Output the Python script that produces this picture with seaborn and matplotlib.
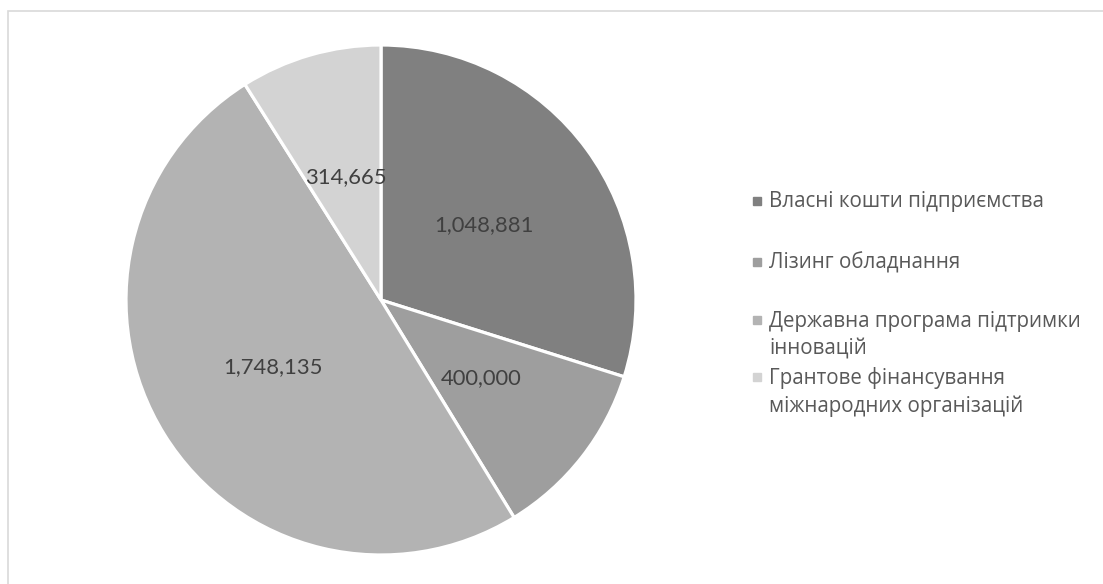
import matplotlib
matplotlib.use("Agg")
import matplotlib.pyplot as plt
import seaborn as sns
import numpy as np
from matplotlib.lines import Line2D
from matplotlib.patches import Rectangle

categories = [
    "Власні кошти підприємства",
    "Лізинг обладнання",
    "Державна програма підтримки\nінновацій",
    "Грантове фінансування\nміжнародних організацій",
]
values = [1048881, 400000, 1748135, 314665]
value_labels = ["1,048,881", "400,000", "1,748,135", "314,665"]
colors = ["#808080", "#9e9e9e", "#b3b3b3", "#d3d3d3"]

sns.set_theme(style="white")
plt.rcParams["font.family"] = ["Lato", "Open Sans", "DejaVu Sans"]

W, H = 1103, 584
fig = plt.figure(figsize=(W / 100, H / 100), dpi=100)
fig.patch.set_facecolor("white")

# chart frame (only top/left edges visible in reference)
fig.patches.append(Rectangle((8 / W, -0.1), 1.2, (H - 11) / H + 0.1,
                             transform=fig.transFigure, fill=False,
                             edgecolor="#d9d9d9", linewidth=1.2, zorder=0))

cx, cy, r = 381, 300, 255
ax = fig.add_axes([(cx - r) / W, (H - cy - r) / H, 2 * r / W, 2 * r / H])
wedges, _ = ax.pie(values, colors=colors, startangle=90, counterclock=False,
                   wedgeprops=dict(edgecolor="white", linewidth=2.3),
                   radius=1.0)
ax.set_xlim(-1, 1)
ax.set_ylim(-1, 1)
ax.set_aspect("equal")
ax.axis("off")

total = sum(values)
cum = 0
for v, lab in zip(values, value_labels):
    mid = (cum + v / 2) / total
    ang = np.deg2rad(90 - 360 * mid)
    d = 0.5
    ax.text(d * np.cos(ang), d * np.sin(ang), lab, ha="center", va="center",
            fontsize=15.8, color="#404040", family=["Lato", "DejaVu Sans"])
    cum += v

# legend (drawn manually to mimic spreadsheet legend spacing)
line_y = [[201], [262], [320, 347], [377, 405]]
for cat, c, ys in zip(categories, colors, line_y):
    lines = cat.split("\n")
    fig.add_artist(Line2D([757 / W], [1 - ys[0] / H], marker="s",
                          markersize=5.2, markerfacecolor=c,
                          markeredgecolor=c, linestyle="none",
                          transform=fig.transFigure))
    for ln, y in zip(lines, ys):
        fig.text(769 / W, 1 - (y + 1) / H, ln, ha="left", va="center",
                 fontsize=14.8, color="#595959",
                 family=["Open Sans", "DejaVu Sans"])

fig.savefig("out.png", dpi=100, facecolor="white")
